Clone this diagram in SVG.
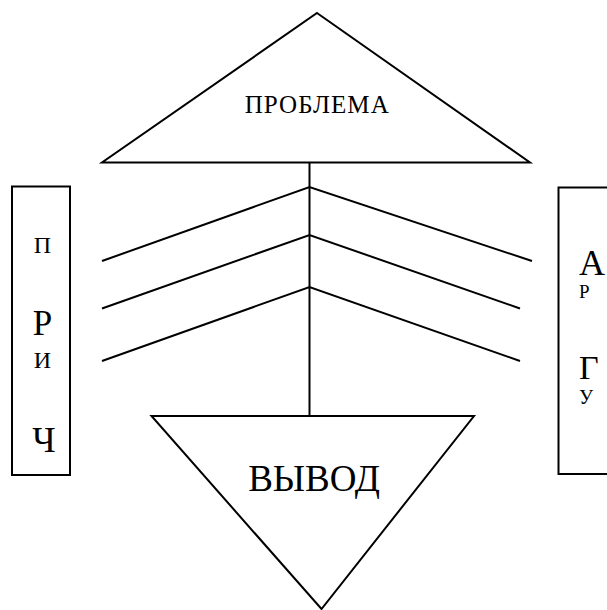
<svg xmlns="http://www.w3.org/2000/svg" width="607" height="610" viewBox="0 0 607 610">
<style>
.s{fill:none;stroke:#000;stroke-width:2}
.n{fill:#fff;stroke:#000;stroke-width:2}
text{font-family:"Liberation Serif","Times New Roman",serif;fill:#000}
</style>
<rect width="607" height="610" fill="#fff"/>
<g id="connectors" class="s">
<line x1="309.5" y1="162" x2="309.5" y2="416"/>
<polyline points="102,261 309.5,187 532,261"/>
<polyline points="102,308.5 309.5,235 520,308.5"/>
<polyline points="102,361 309.5,287 520,361"/>
</g>
<g id="problem">
<polygon class="n" points="317,13 530,162.5 102,162.5"/>
<text x="316.7" y="113.3" font-size="25" text-anchor="middle" textLength="144" lengthAdjust="spacing">ПРОБЛЕМА</text>
</g>
<g id="conclusion">
<polygon class="n" points="151.5,416 474,416 321.5,609"/>
<text x="314" y="490.5" font-size="37" text-anchor="middle">ВЫВОД</text>
</g>
<g id="causes">
<rect class="n" x="12" y="186.5" width="58" height="288.5"/>
<text x="42.5" y="252.5" font-size="24" text-anchor="middle">П</text>
<text x="42.5" y="335" font-size="35" text-anchor="middle">Р</text>
<text x="42.5" y="368" font-size="24" text-anchor="middle">И</text>
<text x="44" y="451.5" font-size="36" text-anchor="middle">Ч</text>
</g>
<g id="arguments">
<rect class="n" x="558.5" y="187.5" width="60" height="286.5"/>
<text x="579" y="275" font-size="36">А</text>
<text x="579" y="298" font-size="19">Р</text>
<text x="579" y="379" font-size="34">Г</text>
<text x="579" y="404" font-size="20">У</text>
</g>
</svg>
